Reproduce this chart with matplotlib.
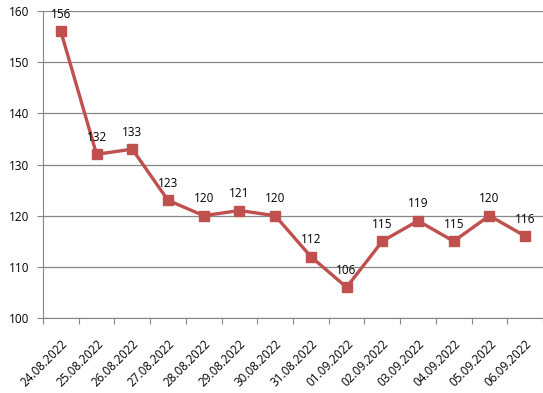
import matplotlib
matplotlib.use("Agg")
import matplotlib.pyplot as plt

dates = ["24.08.2022", "25.08.2022", "26.08.2022", "27.08.2022", "28.08.2022",
         "29.08.2022", "30.08.2022", "31.08.2022", "01.09.2022", "02.09.2022",
         "03.09.2022", "04.09.2022", "05.09.2022", "06.09.2022"]
values = [156, 132, 133, 123, 120, 121, 120, 112, 106, 115, 119, 115, 120, 116]

plt.rcParams['font.family'] = ['Open Sans', 'DejaVu Sans']

fig = plt.figure(figsize=(5.43, 3.93), dpi=100)
ax = fig.add_axes([43/543, 1 - 318/393, 1 - 43/543, (318 - 11)/393])

x = list(range(len(dates)))
ax.plot(x, values, color="#C0504D", lw=2.4, marker="s", ms=7.5, zorder=3)
for xi, v in zip(x, values):
    ax.annotate(str(v), (xi, v), xytext=(0, 7.5), textcoords="offset points",
                ha="center", va="bottom", fontsize=8.5, color="black")

ax.set_ylim(100, 160)
ax.set_yticks(range(100, 161, 10))
ax.set_xlim(-0.5, len(dates) - 0.5)
ax.set_xticks([i - 0.5 for i in range(len(dates) + 1)])
ax.set_xticklabels([])
ax.set_xticks(x, minor=True)
ax.set_xticklabels(dates, minor=True, rotation=45, ha="right", rotation_mode="anchor", fontsize=8.5)
ax.tick_params(axis="x", which="minor", length=0, pad=14)
ax.tick_params(axis="x", which="major", length=4, color="#868686")
ax.tick_params(axis="y", length=4, color="#868686", labelsize=8.5, pad=6)

ax.grid(axis="y", color="#868686", lw=0.9)
ax.set_axisbelow(True)
for s in ["top", "right"]:
    ax.spines[s].set_visible(False)
for s in ["left", "bottom"]:
    ax.spines[s].set_color("#868686")

fig.savefig("out.png", dpi=100)
